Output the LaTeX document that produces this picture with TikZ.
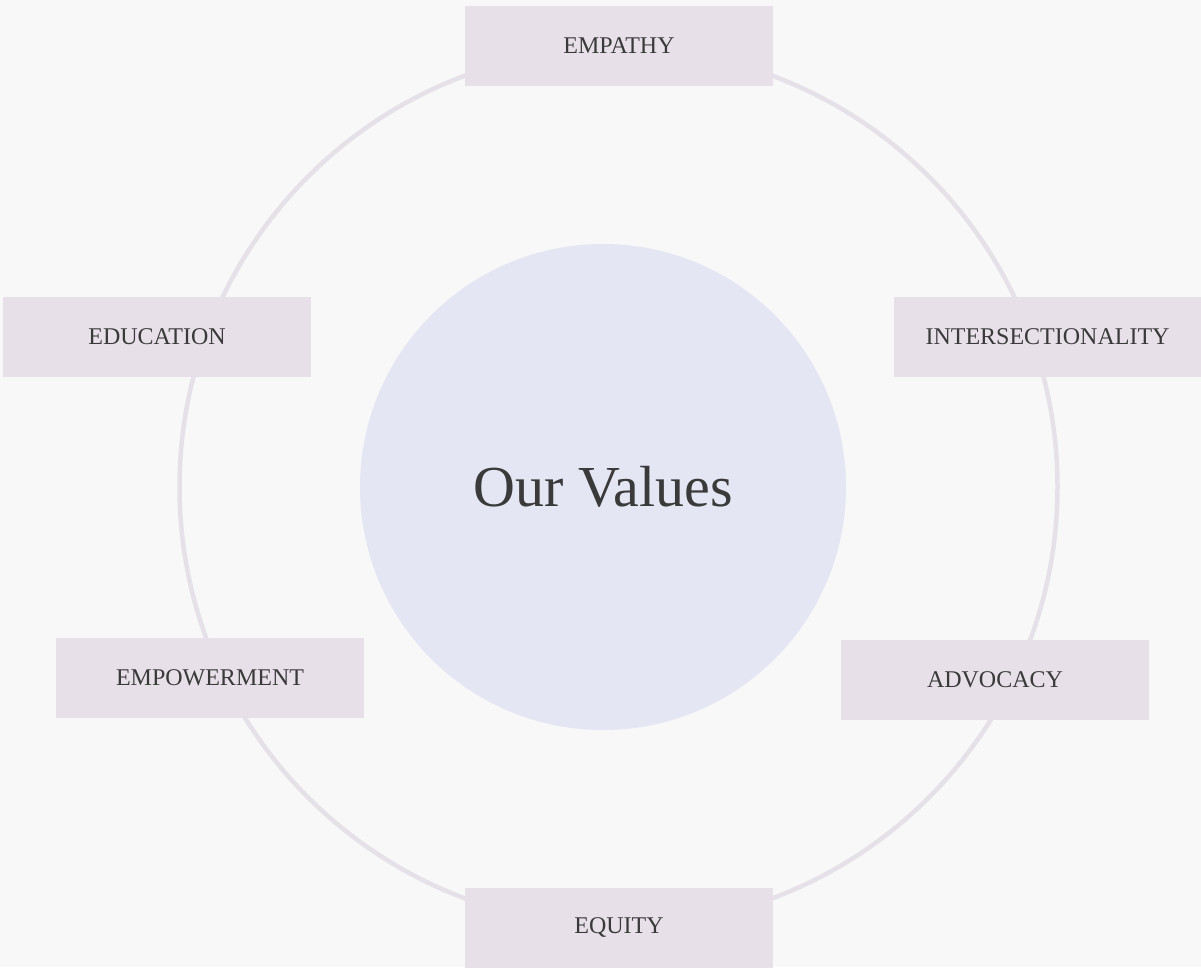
\documentclass[tikz,border=0pt]{standalone}
\usepackage{fontspec}
\setmainfont{Liberation Serif}
\definecolor{bg}{HTML}{F8F8F8}
\definecolor{ring}{HTML}{E6E0E8}
\definecolor{boxfill}{HTML}{E7E0E8}
\definecolor{core}{HTML}{E4E6F4}
\definecolor{txt}{HTML}{3A3A3A}
\tikzset{
  valbox/.style={rectangle, fill=boxfill, minimum width=308pt, minimum height=80pt, inner sep=0pt, text=txt, font=\fontsize{24}{27}\selectfont},
  corecircle/.style={circle, fill=core, minimum size=486pt, inner sep=0pt, text=txt, font=\fontsize{58}{62}\selectfont},
  ringline/.style={draw=ring, line width=4.5pt}
}
\begin{document}
\begin{tikzpicture}[x=1pt,y=-1pt]
\fill[bg] (0,0) rectangle (1201,967);
\useasboundingbox (0,0) rectangle (1201,967);
\coordinate (c) at (618.5,487);
\draw[ringline] (c) circle[radius=439];
\node[corecircle] (core) at (603,487) {\raisebox{-3pt}{Our Values}};
\node[valbox] (empathy) at (619,46) {\raisebox{-1pt}{EMPATHY}};
\node[valbox] (inter) at (1047.5,337) {\raisebox{-2pt}{INTERSECTIONALITY}};
\node[valbox] (advocacy) at (995,680) {\raisebox{-1pt}{ADVOCACY}};
\node[valbox] (equity) at (619,927.5) {\raisebox{-1pt}{EQUITY}};
\node[valbox] (empower) at (210,678) {\raisebox{-1pt}{EMPOWERMENT}};
\node[valbox] (education) at (157,337) {\raisebox{-2pt}{EDUCATION}};
\end{tikzpicture}
\end{document}
